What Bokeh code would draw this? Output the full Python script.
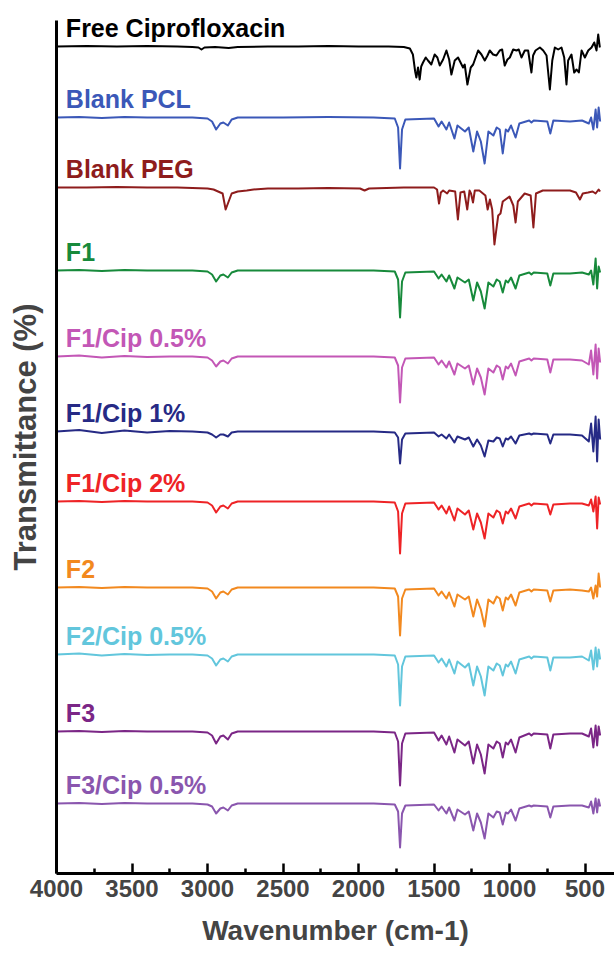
from bokeh.plotting import figure
from bokeh.models import Range1d, FixedTicker, Label
from bokeh.embed import file_html
from bokeh.resources import INLINE

# ---------------- data ----------------
NAMES = ["Free Ciprofloxacin", "Blank PCL", "Blank PEG", "F1", "F1/Cip 0.5%",
         "F1/Cip 1%", "F1/Cip 2%", "F2", "F2/Cip 0.5%", "F3", "F3/Cip 0.5%"]
COLORS = ["#000000", "#3b58b8", "#8e1c1c", "#178a3b", "#c357b6",
          "#262a85", "#ee2326", "#f2891f", "#62c6dc", "#7b2686", "#8a56ae"]
# vertical stacking offset of each spectrum
OFFSETS = [827, 756, 686, 603, 517, 442, 372, 286, 219, 142, 70]

X_TICKS = [4000, 3500, 3000, 2500, 2000, 1500, 1000, 500]
X_MINOR = [3750, 3250, 2750, 2250, 1750, 1250, 750]

# Free ciprofloxacin
CIP_WN = [4000, 3800, 3600, 3400, 3200, 3100, 3060, 3040, 3020, 2950, 2860, 2800,
          2600, 2400, 2200, 2000, 1800, 1700, 1660,
          1640, 1625, 1617, 1606, 1595, 1585, 1573, 1555, 1540, 1518, 1496, 1478,
          1462, 1440, 1418, 1400, 1385, 1363, 1341, 1308, 1297, 1279, 1257, 1241,
          1208, 1186, 1164, 1146, 1131, 1109, 1087, 1065, 1049, 1032, 1014, 998,
          976, 954, 939, 921, 899, 877, 855, 844, 828, 799, 777, 755, 733, 717,
          700, 678, 656, 638, 623, 612, 590, 572, 556, 541, 523, 501, 479, 457,
          439, 424, 413, 402]
CIP_T = [0, 0.5, 0, 0.5, 0, -0.5, -1, -3, -1, -0.5, -1.5, -0.5,
         0, 0, 0.5, 0, 0, -0.5, -2,
         -8, -25, -31, -21, -33, -20, -16, -11, -14, -18, -8, -11,
         -19, -13, -4, -13, -28, -14, -11, -21, -18, -38, -21, -18,
         -4, -8, -14, -9, -4, -8, -9, -4, -3, -19, -13, -11,
         -3, -4, -3, -11, -4, -4, -26, -9, -4, -1, -4, -9, -43, -14,
         -1, -3, -1, -11, -38, -14, -8, -26, -23, -26, -4, -11, -4, -1,
         4, -4, 12, -1]

# Blank PEG
PEG_WN = [4000, 3800, 3600, 3400, 3200, 3000, 2960, 2930, 2900, 2880, 2865, 2840,
          2800, 2740, 2695, 2600, 2400, 2200, 1990, 1960, 1930, 1700, 1500, 1480,
          1467, 1455, 1440, 1413, 1400, 1360, 1342, 1325, 1300, 1280, 1265, 1255,
          1242, 1230, 1200, 1160, 1145, 1130, 1115, 1100, 1090, 1075, 1060, 1045,
          1000, 975, 960, 945, 900, 860, 842, 825, 780, 600, 560, 534, 515, 480,
          450, 430, 410, 400]
PEG_T = [0, 0, 0.5, 0, 0, -1, -2, -4, -6, -22, -16, -6,
         -4, -3, -2, -1, -1, -0.5, -1, -3, -1, 0, 0, -2,
         -16, -5, -3, -6, -3, -4, -32, -5, -4, -22, -3, -6,
         -15, -3, -3, -8, -22, -12, -22, -57, -45, -28, -26, -14,
         -9, -18, -35, -14, -6, -8, -40, -6, -3, -3, -5, -12, -6, -5,
         -4, -6, -2, -4]

# shared wavenumber vertices for the PCL-based spectra
PCL_WN = [4000, 3850, 3700, 3550, 3400, 3250, 3100, 3000,
          2970, 2943, 2915, 2895, 2865, 2840, 2800,
          2500, 2200, 1900, 1760,
          1738, 1725, 1712, 1690, 1500,
          1470, 1450, 1418, 1400, 1365, 1345, 1295,
          1270, 1240, 1215, 1190, 1165, 1140,
          1107, 1085, 1065, 1045, 1025, 1010, 990, 960, 935,
          870, 855, 840, 750, 730, 710,
          600, 520, 475, 460, 445, 430, 420, 410, 400]

PCL_T = [0, 0.5, -0.5, 0.5, 0, 0, 0, -1,
         -4, -12, -6, -5, -8, -2, 0,
         0, 0.5, 0, -1,
         -10, -51, -12, -2, -1,
         -9, -4, -12, -5, -21, -8, -14,
         -10, -34, -14, -24, -46, -14,
         -18, -10, -12, -36, -12, -14, -8, -20, -6,
         -3, -5, -3, -4, -16, -3,
         -4, -3, -6, 0, -12, 8, -10, 10, -4]
F1_T = [0, 0.5, -0.5, 0.5, 0, 0, 0, -1,
        -4, -11, -5, -4, -7, -2, 0,
        0, 0, 0, -1,
        -9, -47, -11, -2, -1,
        -8, -4, -11, -5, -18, -7, -12,
        -9, -30, -12, -21, -38, -12,
        -16, -9, -11, -22, -10, -12, -7, -18, -5,
        -2, -4, -2, -3, -15, -3,
        -3, -2, -4, 0, -14, 12, -18, 4, -2]
F1C05_T = [0, 1, -1, 0.5, -0.5, 0, 0, -1,
           -4, -10, -5, -4, -7, -2, 0,
           0, 0, 0, -1,
           -9, -46, -11, -2, -1,
           -8, -4, -11, -5, -18, -7, -12,
           -9, -28, -12, -21, -38, -12,
           -16, -9, -11, -23, -10, -12, -7, -19, -5,
           -2, -4, -2, -3, -16, -3,
           -3, -4, -8, 6, -18, 12, -22, 8, -6]
F1C1_T = [0, 1.5, -1.5, 1, -1, 0.5, 0, -1,
          -3, -6, -3, -3, -5, -1, 0,
          0, 0, 0, -1,
          -6, -32, -8, -2, -1,
          -5, -3, -7, -3, -11, -5, -8,
          -6, -15, -8, -14, -25, -9,
          -10, -6, -7, -15, -7, -8, -5, -12, -4,
          -2, -3, -2, -3, -12, -3,
          -3, -4, -10, 8, -20, 15, -30, 12, -8]
F1C2_T = [0, 0.5, -0.5, 0.5, 0, 0, 0, -1,
          -4, -11, -5, -4, -7, -2, 0,
          0, 0, 0, -1,
          -10, -52, -12, -2, -1,
          -8, -4, -12, -5, -19, -7, -13,
          -9, -28, -12, -21, -37, -12,
          -16, -9, -11, -22, -10, -12, -7, -17, -5,
          -2, -4, -2, -3, -13, -3,
          -2, -2, -4, 2, -10, 5, -27, 4, -3]
F2_T = [0, 0.5, -0.5, 0.5, 0, 0, 0, -1,
        -4, -11, -5, -4, -7, -2, 0,
        0, 0, 0, -1,
        -9, -48, -11, -2, -1,
        -8, -4, -11, -5, -19, -7, -12,
        -9, -29, -12, -22, -39, -12,
        -16, -9, -11, -23, -10, -12, -7, -18, -5,
        -2, -4, -2, -3, -14, -3,
        -2, -3, -4, 0, -11, 2, -9, 14, 0]
F2C05_T = [0, 1, -1, 0.5, -0.5, 0, 0, -1,
           -4, -11, -5, -4, -7, -2, 0,
           0, 0, 0, -1,
           -10, -51, -12, -2, -1,
           -8, -4, -12, -5, -19, -7, -13,
           -9, -31, -12, -22, -41, -12,
           -16, -9, -11, -21, -10, -12, -7, -19, -5,
           -2, -4, -2, -3, -16, -3,
           -3, -2, -6, 4, -15, 7, -12, 5, -5]
F3_T = [0, 0.5, -0.5, 0.5, 0, 0, 0, -1,
        -4, -12, -5, -4, -8, -2, 0,
        0, 0, 0, -1,
        -10, -54, -12, -2, -1,
        -9, -4, -13, -5, -21, -8, -14,
        -10, -32, -13, -23, -42, -13,
        -17, -10, -12, -26, -11, -13, -8, -21, -6,
        -2, -4, -2, -3, -17, -3,
        -2, -2, -5, 3, -16, 6, -14, 5, -4]
F3C05_T = [0, 0.5, -0.5, 0.5, 0, 0, 0, -1,
           -3, -10, -5, -4, -7, -2, 0,
           0, 0, 0, -1,
           -8, -44, -10, -2, -1,
           -7, -3, -10, -4, -17, -6, -11,
           -8, -27, -10, -19, -35, -10,
           -14, -8, -9, -21, -9, -10, -6, -17, -5,
           -2, -3, -2, -3, -14, -3,
           -2, -2, -4, 2, -10, 5, -9, 4, -3]

SPECTRA = [(CIP_WN, CIP_T), (PCL_WN, PCL_T), (PEG_WN, PEG_T), (PCL_WN, F1_T),
           (PCL_WN, F1C05_T), (PCL_WN, F1C1_T), (PCL_WN, F1C2_T), (PCL_WN, F2_T),
           (PCL_WN, F2C05_T), (PCL_WN, F3_T), (PCL_WN, F3C05_T)]

# ---------------- figure ----------------
FONT = "Liberation Sans"

p = figure(width=614, height=955, output_backend="svg", toolbar_location=None,
           x_range=Range1d(4000, 305), y_range=Range1d(0, 873),
           min_border_left=56, min_border_right=0, min_border_top=0,
           min_border_bottom=82)
p.outline_line_color = None
p.grid.visible = False
p.background_fill_color = "white"
p.border_fill_color = "white"

for (wn, t), off, col, name in zip(SPECTRA, OFFSETS, COLORS, NAMES):
    p.line(wn, [off + v for v in t], line_color=col, line_width=2,
           line_join="round")
    p.add_layout(Label(x=3938, y=off + 19, text=name, text_color=col,
                       text_font=FONT, text_font_style="bold",
                       text_font_size="25px", text_baseline="middle",
                       text_align="left"))

xa = p.xaxis[0]
xa.ticker = FixedTicker(ticks=X_TICKS, minor_ticks=X_MINOR)
xa.axis_line_width = 3
xa.major_tick_in = 10
xa.major_tick_out = 0
xa.minor_tick_in = 5
xa.minor_tick_out = 0
xa.major_tick_line_width = 2.5
xa.minor_tick_line_width = 2.5
xa.major_label_text_font = FONT
xa.major_label_text_font_style = "bold"
xa.major_label_text_font_size = "24px"
xa.major_label_standoff = 6
xa.axis_label = "Wavenumber (cm-1)"
xa.axis_label_text_font = FONT
xa.axis_label_text_font_style = "bold"
xa.axis_label_text_font_size = "28px"
xa.axis_label_standoff = 15

ya = p.yaxis[0]
ya.ticker = FixedTicker(ticks=[])
ya.bounds = (0, 853)
ya.axis_line_width = 3
ya.major_tick_line_color = None
ya.minor_tick_line_color = None
ya.axis_label = "Transmittance (%)"
ya.axis_label_text_font = FONT
ya.axis_label_text_font_style = "bold"
ya.axis_label_text_font_size = "31px"
ya.axis_label_standoff = 14

open("out.html", "w").write(file_html(p, INLINE))
